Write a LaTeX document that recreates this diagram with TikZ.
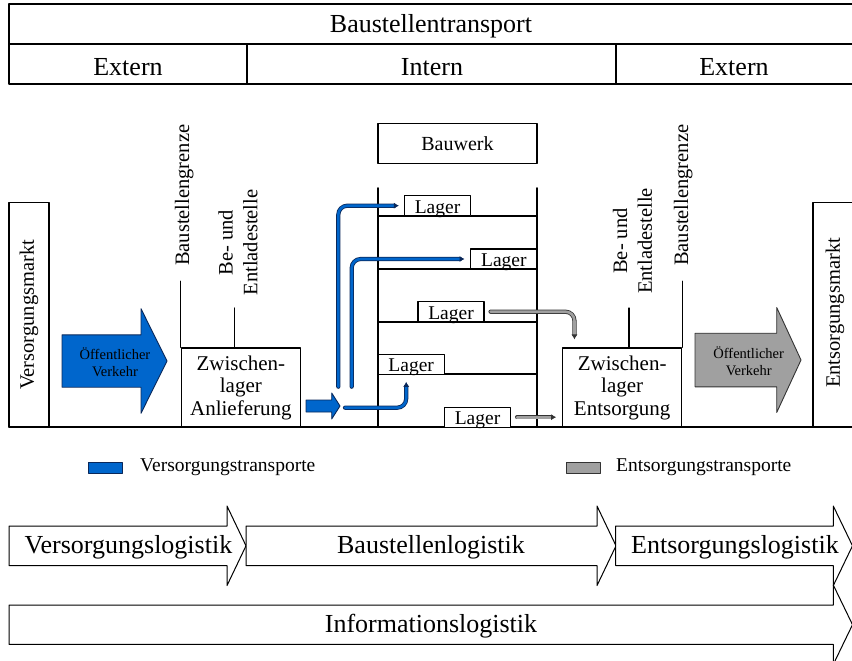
\documentclass[tikz,border=0pt]{standalone}
\usepackage{fontspec}
\setmainfont{Liberation Serif}
\usetikzlibrary{arrows.meta}
\definecolor{vblue}{RGB}{0,102,204}
\definecolor{vdark}{RGB}{10,40,90}
\definecolor{egray}{RGB}{160,160,160}
\tikzset{>=latex}
\tikzset{frame/.style={black, line width=1.1pt}}
\tikzset{bau/.style={black, line width=1.7pt}}
\tikzset{bigtext/.style={font=\fontsize{26}{30}\selectfont}}
\tikzset{midtext/.style={font=\fontsize{20.5}{24.6}\selectfont}}
\tikzset{pubtext/.style={font=\fontsize{14.5}{17.3}\selectfont, align=center}}
\tikzset{lager/.style={draw, line width=1.1pt, fill=white, inner sep=0pt, minimum width=66pt, minimum height=20pt, text height=17.6pt, text depth=2.4pt, font=\fontsize{19.5}{22}\selectfont}}
\tikzset{zwl/.style={draw, line width=1.1pt, inner sep=0pt, minimum width=119pt, minimum height=79pt, align=center, font=\fontsize{21}{22.5}\selectfont}}
\tikzset{pubV/.style={draw=vdark, fill=vblue, line width=0.9pt}}
\tikzset{pubE/.style={draw=black!80, fill=egray, line width=0.9pt}}
\tikzset{logarrow/.style={draw=black, fill=white, line width=1pt}}
\tikzset{vtrans/.style={draw=vdark, double=vblue, double distance=2.6pt, line width=0.8pt, rounded corners=9pt, -{Latex[length=5pt, width=6pt]}}}
\tikzset{etrans/.style={draw=black!80, double=egray, double distance=2.6pt, line width=0.8pt, rounded corners=9pt, -{Latex[length=5pt, width=6pt]}}}
% block arrow: style, x start, x head, x tip, y centre, half shaft, half head
\newcommand{\blockarrow}[7]{%
	\draw[#1] (#2,#5-#6) -- (#3,#5-#6) -- (#3,#5-#7) -- (#4,#5) -- (#3,#5+#7) -- (#3,#5+#6) -- (#2,#5+#6) -- cycle;
}

\begin{document}
\begin{tikzpicture}[x=1pt, y=-1pt, line cap=round, line join=round]
	\useasboundingbox (0,0) rectangle (852,661);

	% Head Table
	\draw[frame] (9,4) rectangle (860,84);
	\draw[frame] (9,44) -- (860,44);
	\draw[frame] (247,44) -- (247,84);
	\draw[frame] (616,44) -- (616,84);
	\node[bigtext] (trans) at (431,26.5) {Baustellentransport};
	\node[bigtext] (extL) at (128,67) {Extern};
	\node[bigtext] (intern) at (432,67) {Intern};
	\node[bigtext] (extR) at (734,67) {Extern};

	% Ground
	\draw[frame] (9,427) -- (860,427);

	% Markets
	\node[draw, line width=1.1pt, rotate=90, minimum width=224.3pt, minimum height=40pt, inner sep=0pt, midtext] (versMarkt) at (29,314.85) {Versorgungsmarkt};
	\draw[frame] (813,427) -- (813,202.7) -- (860,202.7);
	\node[rotate=90, midtext] (entsMarkt) at (835,313) {Entsorgungsmarkt};

	% Public Traffic
	\blockarrow{pubV}{62}{141}{167}{361}{26.2}{52.3}
	\node[pubtext] (pubLeft) at (115,362) {Öffentlicher\\Verkehr};
	\blockarrow{pubE}{695}{776.7}{801}{360}{26.8}{52.5}
	\node[pubtext] (pubRight) at (748.7,361) {Öffentlicher\\Verkehr};

	% Intermediate Storage
	\node[zwl] (zwlAn) at (240.85,387.5) {Zwischen-\\lager\\Anlieferung};
	\node[zwl] (zwlEnt) at (622.2,387.5) {Zwischen-\\lager\\Entsorgung};

	% Site Border and Loading Point
	\draw[frame] (zwlAn.north west) -- ++(0,-66.3);
	\draw[frame] (234.3,348) -- (234.3,308);
	\draw[frame] (629,348) -- (629,308);
	\draw[frame] (zwlEnt.north east) -- ++(0,-66.3);
	\node[rotate=90, anchor=base west, inner sep=0pt, midtext] (grenzeL) at (189,266) {Baustellengrenze};
	\node[rotate=90, align=center, midtext] (ladeL) at (238,242.5) {Be- und\\Entladestelle};
	\node[rotate=90, align=center, midtext] (ladeR) at (632.5,241) {Be- und\\Entladestelle};
	\node[rotate=90, anchor=base west, inner sep=0pt, midtext] (grenzeR) at (688,266) {Baustellengrenze};

	% Building
	\node[draw, line width=1.1pt, minimum width=159pt, minimum height=40pt, midtext, font=\fontsize{20}{24}\selectfont] (bauwerk) at (457.5,143.5) {Bauwerk};
	\draw[bau] (378,188) -- (378,427);
	\draw[bau] (537,188) -- (537,427);
	\foreach \y in {215.7, 269, 321.7, 374.3}
	{
		\draw[bau] (378,\y) -- (537,\y);
	}

	% Storage Areas
	\node[lager] (lagerA) at (437.5,205.7) {Lager};
	\node[lager] (lagerB) at (503.85,259) {Lager};
	\node[lager] (lagerC) at (451,311.7) {Lager};
	\node[lager] (lagerD) at (411.2,364.2) {Lager};
	\node[lager] (lagerE) at (477.5,417.2) {Lager};

	% Supply Transports
	\blockarrow{pubV}{306}{331.7}{340}{406}{6}{13}
	\coordinate (vA) at (338.3,386.7);
	\coordinate (vB) at (351.7,386.7);
	\coordinate (vD) at (345,407.7);
	\draw[vtrans, shorten >=5pt] (vA) |- (lagerA.west);
	\draw[vtrans, shorten >=5.7pt] (vB) |- (lagerB.west);
	\draw[vtrans, shorten >=7pt] (vD) -| ([xshift=-5pt]lagerD.south);

	% Disposal Transports
	\draw[etrans, shorten <=6pt, shorten >=8pt] (lagerC.east) -| ([xshift=12.3pt]zwlEnt.north west);
	\draw[etrans, shorten <=6pt, shorten >=6pt] (lagerE.east) -- (zwlEnt.west |- lagerE.east);

	% Legend
	\draw[pubV] (88,462.5) rectangle (122,473);
	\node[anchor=west, inner sep=0pt, font=\fontsize{19.5}{22}\selectfont] (legV) at (140,467) {Versorgungstransporte};
	\draw[pubE] (566,462.5) rectangle (600,473);
	\node[anchor=west, inner sep=0pt, font=\fontsize{19.5}{22}\selectfont] (legE) at (616,467) {Entsorgungstransporte};

	% Logistics Arrows
	\blockarrow{logarrow}{9}{227}{246}{545.8}{19.8}{39.8}
	\blockarrow{logarrow}{246}{597}{616}{545.8}{19.8}{39.8}
	\blockarrow{logarrow}{615.7}{833.3}{852.5}{545.8}{19.8}{39.8}
	\blockarrow{logarrow}{9}{833.3}{852.5}{624.7}{19.7}{39.7}
	\node[bigtext] (versLog) at (128.5,547) {Versorgungslogistik};
	\node[bigtext] (bauLog) at (431,547) {Baustellenlogistik};
	\node[bigtext] (entsLog) at (735,547) {Entsorgungslogistik};
	\node[bigtext] (infoLog) at (431,626.5) {Informationslogistik};
\end{tikzpicture}
\end{document}
